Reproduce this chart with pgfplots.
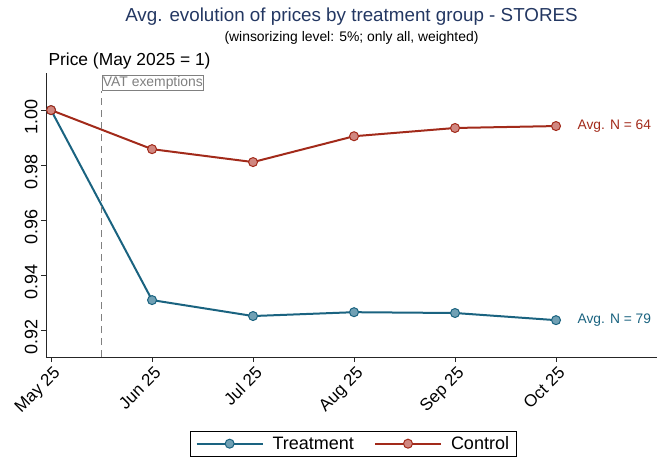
\documentclass[border=0pt]{standalone}
\usepackage{fontspec}
\setmainfont{Liberation Sans}
\usepackage{pgfplots}
\pgfplotsset{compat=1.18}

\definecolor{treat}{RGB}{26,99,128}
\definecolor{treatfill}{RGB}{112,160,180}
\definecolor{ctrl}{RGB}{162,42,26}
\definecolor{ctrlfill}{RGB}{208,135,128}
\definecolor{titleblue}{RGB}{35,55,98}

\begin{document}
\begin{tikzpicture}
\begin{axis}[
  name=ax,
  scale only axis, width=611pt, height=284pt,
  xmin=-0.05, xmax=6, ymin=0.9102, ymax=1.0135,
  axis lines*=left,
  axis line style={black!85, line width=0.8pt},
  clip=false,
  xtick={0,1,2,3,4,5},
  xticklabels={May 25,Jun 25,Jul 25,Aug 25,Sep 25,Oct 25},
  ytick={0.92,0.94,0.96,0.98,1.00},
  /pgf/number format/.cd, fixed, fixed zerofill, precision=2, assume math mode=true,
  /pgfplots/.cd,
  tick align=outside, major tick length=5pt,
  tick style={black!85, line width=0.8pt},
  xticklabel style={font=\fontsize{17}{19}\selectfont, rotate=45, anchor=north east, xshift=2pt},
  yticklabel style={font=\fontsize{18}{20}\selectfont, rotate=90, anchor=south, xshift=-7pt},
  legend style={at={(axis description cs:0.503,-0.2606)}, anchor=north,
    draw=black, line width=0.8pt, font=\fontsize{18}{20}\selectfont,
    inner xsep=5pt, inner ysep=3pt},
  legend columns=2,
  legend cell align=left,
  /tikz/every even column/.append style={column sep=18pt},
  legend image code/.code={
    \draw[#1, mark=none] (0pt,0pt) -- (66pt,0pt);
    \draw[#1, only marks] plot coordinates {(33pt,0pt)};
    \path (73pt,0pt);
  },
]
\addplot[treat, line width=2pt, mark=*, mark size=4.5pt,
  mark options={fill=treatfill, draw=treat, line width=1pt}]
  coordinates {(0,1.0000) (1,0.9309) (2,0.9251) (3,0.9265) (4,0.9262) (5,0.9236)};
\addlegendentry{Treatment}
\addplot[ctrl, line width=2pt, mark=*, mark size=4.5pt,
  mark options={fill=ctrlfill, draw=ctrl, line width=1pt}]
  coordinates {(0,1.0000) (1,0.9858) (2,0.9811) (3,0.9905) (4,0.9935) (5,0.9942)};
\addlegendentry{Control}

\draw[gray, line width=1pt, dash pattern=on 7pt off 5pt]
  (axis cs:0.5,0.9102) -- (axis cs:0.5,1.0069);
\node[draw=gray, text=gray, anchor=south west, inner sep=1pt, line width=0.8pt,
  font=\fontsize{13.9}{15}\selectfont] at (axis cs:0.5,1.0069) {VAT exemptions};
\node[anchor=west, text=ctrl, font=\fontsize{13.8}{15}\selectfont]
  at ([xshift=18pt]axis cs:5,0.9942) {Avg. N = 64};
\node[anchor=west, text=treat, font=\fontsize{13.8}{15}\selectfont]
  at ([xshift=18pt]axis cs:5,0.9236) {Avg. N = 79};
\end{axis}
\node[anchor=base, text=titleblue, font=\fontsize{18.8}{21}\selectfont]
  at ([yshift=51pt]ax.north) {Avg. evolution of prices by treatment group - STORES};
\node[anchor=base, font=\fontsize{13.9}{16}\selectfont]
  at ([yshift=31pt]ax.north) {(winsorizing level: 5\%; only all, weighted)};
\node[anchor=base west, font=\fontsize{17.4}{19}\selectfont]
  at ([xshift=-1pt,yshift=7pt]ax.north west) {Price (May 2025 = 1)};
\pgfresetboundingbox
\path[use as bounding box] ([xshift=-46pt,yshift=-104pt]ax.south west) rectangle ([yshift=73pt]ax.north east);
\end{tikzpicture}
\end{document}
